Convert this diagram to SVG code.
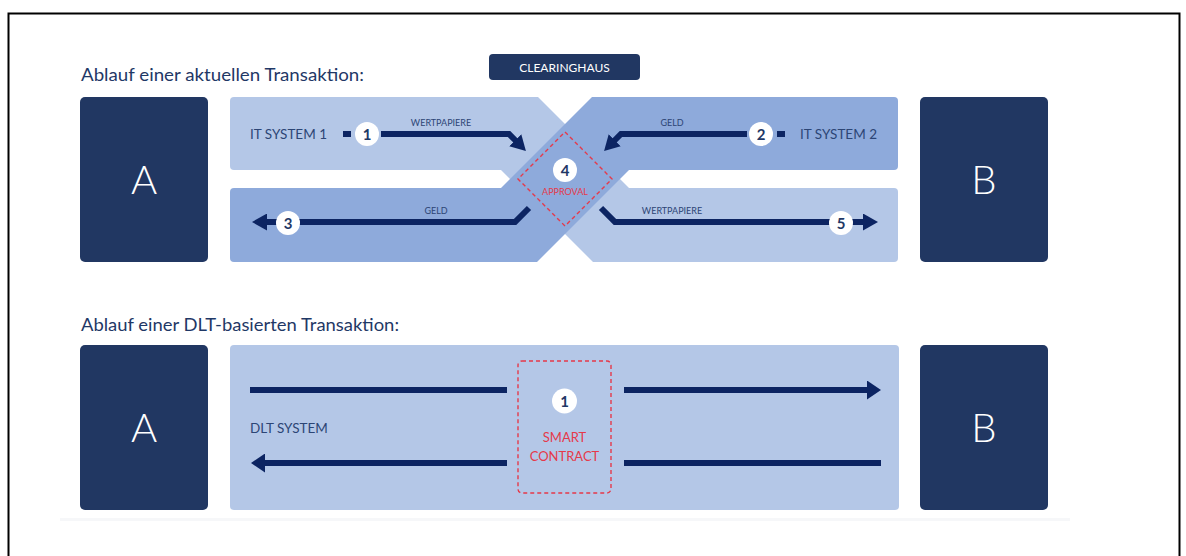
<svg xmlns="http://www.w3.org/2000/svg" width="1186" height="556" viewBox="0 0 1186 556">
  <defs>
    <style>
      .box { fill: #213762; }
      .light { fill: #b4c7e7; }
      .mid { fill: #8eaadb; }
      .big { font-family: Lato, "Open Sans", "Liberation Sans", sans-serif; font-weight: 300; font-size: 40px; fill: #ffffff; text-anchor: middle; }
      .title { font-family: Lato, "Liberation Sans", sans-serif; font-size: 17px; fill: #1f3866; }
      .sys { font-family: Lato, "Liberation Sans", sans-serif; font-size: 13.5px; fill: #2c4575; }
      .lbl { font-family: Lato, "Liberation Sans", sans-serif; font-size: 9px; fill: #2c4575; text-anchor: middle; }
      .red { font-family: Lato, "Liberation Sans", sans-serif; fill: #e5394a; text-anchor: middle; }
      .num { font-family: Lato, "Liberation Sans", sans-serif; font-size: 15px; font-weight: bold; fill: #1f3866; text-anchor: middle; }
      .dot { fill: #ffffff; }
      .flow { fill: none; stroke: #0c2462; stroke-width: 6; stroke-linejoin: miter; }
      .dash { fill: none; stroke: #e5394a; stroke-width: 1.4; stroke-dasharray: 4 3; }
    </style>
    <marker id="head" viewBox="0 0 15 17" markerUnits="userSpaceOnUse" markerWidth="15" markerHeight="17" refX="1" refY="8.5" orient="auto">
      <path d="M0,0 L15,8.5 L0,17 Z" fill="#0c2462"/>
    </marker>
    <marker id="headL" viewBox="0 0 14 19" markerUnits="userSpaceOnUse" markerWidth="14" markerHeight="19" refX="1" refY="9.5" orient="auto">
      <path d="M0,0 L14,9.5 L0,19 Z" fill="#0c2462"/>
    </marker>
  </defs>

  <rect width="1186" height="556" fill="#ffffff"/>
  <!-- outer frame, open at the bottom -->
  <path d="M8.5,557 V13.5 H1179.5 V557" fill="none" stroke="#000000" stroke-width="2"/>
  <!-- faint floor shadow -->
  <rect x="60" y="518" width="1010" height="3" fill="#f6f7f9"/>

  <!-- ===== current transaction ===== -->
  <text class="title" x="81" y="81" textLength="283" lengthAdjust="spacingAndGlyphs">Ablauf einer aktuellen Transaktion:</text>

  <g id="clearinghaus">
    <rect x="489" y="54" width="151" height="26" rx="4" class="box"/>
    <text x="564.5" y="71.5" font-family="Lato, 'Liberation Sans', sans-serif" font-size="12" fill="#ffffff" text-anchor="middle">CLEARINGHAUS</text>
  </g>

  <g id="partyA1">
    <rect x="80" y="97" width="128" height="165" rx="5" class="box"/>
    <text class="big" x="144" y="194">A</text>
  </g>
  <g id="partyB1">
    <rect x="920" y="97" width="128" height="165" rx="5" class="box"/>
    <text class="big" x="984" y="194">B</text>
  </g>

  <!-- securities lane: top left, crossing down to bottom right -->
  <g id="securitiesLane">
    <rect x="230" y="97" width="280" height="73" rx="4" class="light"/>
    <rect x="620" y="188" width="278" height="74" rx="4" class="light"/>
    <polygon points="501,97 538,97 629,188 629,262 593,262 501,170" class="light"/>
  </g>
  <!-- cash lane: top right, crossing down to bottom left -->
  <g id="cashLane">
    <rect x="620" y="97" width="278" height="73" rx="4" class="mid"/>
    <rect x="230" y="188" width="280" height="74" rx="4" class="mid"/>
    <polygon points="629,97 592,97 501,188 501,262 537,262 629,170" class="mid"/>
  </g>

  <g id="itSystem1">
    <text class="sys" x="250" y="139">IT SYSTEM 1</text>
  </g>
  <g id="itSystem2">
    <text class="sys" x="800" y="139">IT SYSTEM 2</text>
  </g>

  <g id="approval">
    <polygon points="565,132 612,179 565,226 518,179" class="dash"/>
    <circle cx="565" cy="170" r="12" class="dot"/>
    <text class="num" x="565" y="175.5">4</text>
    <text class="red" x="565" y="195" font-size="9">APPROVAL</text>
  </g>

  <g id="connectors">
    <!-- 1: securities from IT system 1 into clearing -->
    <path d="M343,134 H351" class="flow"/>
    <path d="M381,134 H509 L516,141" class="flow" marker-end="url(#head)"/>
    <!-- 2: cash from IT system 2 into clearing -->
    <path d="M777,134 H785" class="flow"/>
    <path d="M747,134 H621 L614,141" class="flow" marker-end="url(#head)"/>
    <!-- 3: cash out to A -->
    <path d="M529,208 L515,222 H266" class="flow" marker-end="url(#head)"/>
    <!-- 5: securities out to B -->
    <path d="M601,208 L615,222 H864" class="flow" marker-end="url(#head)"/>
    <text class="lbl" x="441" y="126">WERTPAPIERE</text>
    <text class="lbl" x="672" y="126">GELD</text>
    <text class="lbl" x="436" y="214">GELD</text>
    <text class="lbl" x="672" y="214">WERTPAPIERE</text>
  </g>

  <g id="steps">
    <circle cx="367" cy="134" r="12" class="dot"/>
    <text class="num" x="367" y="139.5">1</text>
    <circle cx="761" cy="134" r="12" class="dot"/>
    <text class="num" x="761" y="139.5">2</text>
    <circle cx="288" cy="223" r="12" class="dot"/>
    <text class="num" x="288" y="228.5">3</text>
    <circle cx="841" cy="223" r="12" class="dot"/>
    <text class="num" x="841" y="228.5">5</text>
  </g>

  <!-- ===== DLT transaction ===== -->
  <text class="title" x="81" y="331" textLength="318" lengthAdjust="spacingAndGlyphs">Ablauf einer DLT-basierten Transaktion:</text>

  <g id="partyA2">
    <rect x="80" y="345" width="128" height="165" rx="5" class="box"/>
    <text class="big" x="144" y="442">A</text>
  </g>
  <g id="partyB2">
    <rect x="920" y="345" width="128" height="165" rx="5" class="box"/>
    <text class="big" x="984" y="442">B</text>
  </g>

  <g id="dltSystem">
    <rect x="230" y="345" width="669" height="165" rx="4" class="light"/>
    <text class="sys" x="250" y="433">DLT SYSTEM</text>
  </g>

  <g id="dltConnectors">
    <path d="M250,390 H507" class="flow"/>
    <path d="M624,390 H868" class="flow" marker-end="url(#headL)"/>
    <path d="M507,463 H264" class="flow" marker-end="url(#headL)"/>
    <path d="M624,463 H881" class="flow"/>
  </g>

  <g id="smartContract">
    <rect x="518" y="361" width="93" height="132" rx="4" class="dash"/>
    <circle cx="564.5" cy="401" r="12.5" class="dot"/>
    <text class="num" x="564.5" y="406.5">1</text>
    <text class="red" x="564.5" y="442" font-size="13">SMART</text>
    <text class="red" x="564.5" y="461" font-size="13">CONTRACT</text>
  </g>
</svg>
